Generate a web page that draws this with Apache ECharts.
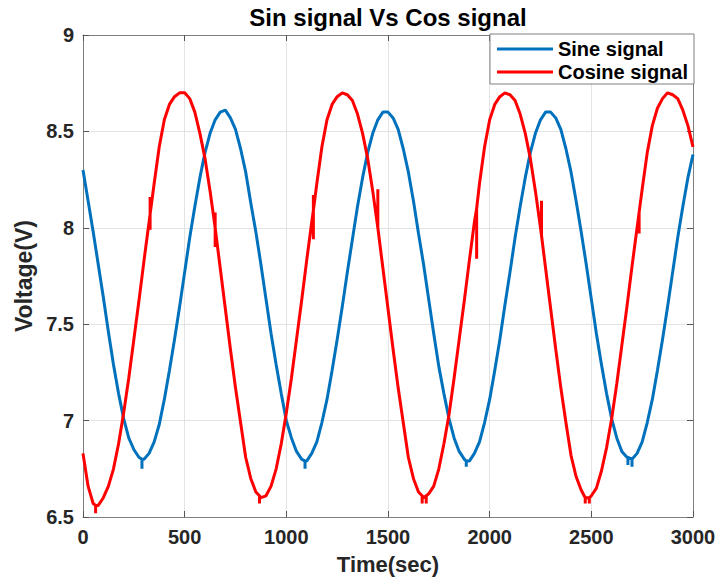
<!DOCTYPE html>
<html>
<head>
<meta charset="utf-8">
<title>Sin signal Vs Cos signal</title>
<script src="https://cdn.jsdelivr.net/npm/echarts@6/dist/echarts.min.js"></script>
<style>
  html, body { margin: 0; padding: 0; background: #fff; }
  #chart { width: 719px; height: 582px; }
</style>
</head>
<body>
<div id="chart"></div>
<script>
// Sampling of the logged signals: one reading every 25 s from t = 0 to 3000 s
const sampleStart = 0;
const sampleStep = 25;

// Sine signal readings (V)
const sineVolts = [
  8.30, 8.14, 7.98, 7.81, 7.64, 7.46, 7.29, 7.14, 7.01, 6.91, 6.85, 6.81, 6.80, 6.83, 6.89, 6.98,
  7.11, 7.26, 7.42, 7.59, 7.77, 7.95, 8.11, 8.26, 8.39, 8.49, 8.56, 8.60, 8.61, 8.57, 8.51, 8.41,
  8.29, 8.13, 7.98, 7.81, 7.63, 7.45, 7.29, 7.14, 7.00, 6.91, 6.84, 6.80, 6.79, 6.83, 6.89, 6.99,
  7.11, 7.26, 7.42, 7.59, 7.77, 7.94, 8.11, 8.26, 8.39, 8.49, 8.56, 8.60, 8.60, 8.57, 8.51, 8.41,
  8.29, 8.14, 7.97, 7.81, 7.63, 7.45, 7.28, 7.14, 7.01, 6.91, 6.84, 6.80, 6.79, 6.83, 6.89, 6.99,
  7.11, 7.26, 7.42, 7.60, 7.77, 7.95, 8.11, 8.26, 8.39, 8.49, 8.56, 8.60, 8.60, 8.57, 8.51, 8.41,
  8.29, 8.14, 7.98, 7.81, 7.63, 7.45, 7.29, 7.14, 7.01, 6.91, 6.84, 6.81, 6.80, 6.83, 6.89, 6.99,
  7.11, 7.26, 7.42, 7.59, 7.77, 7.95, 8.11, 8.26, 8.38
];

// Cosine signal readings (V)
const cosineVolts = [
  6.83, 6.66, 6.57, 6.56, 6.60, 6.66, 6.75, 6.88, 7.04, 7.22, 7.42, 7.62, 7.83, 8.03, 8.23, 8.42,
  8.56, 8.64, 8.68, 8.70, 8.70, 8.67, 8.60, 8.49, 8.36, 8.19, 8.00, 7.79, 7.58, 7.37, 7.17, 6.99,
  6.81, 6.70, 6.63, 6.60, 6.61, 6.66, 6.75, 6.88, 7.04, 7.22, 7.42, 7.62, 7.83, 8.03, 8.23, 8.42,
  8.56, 8.64, 8.68, 8.70, 8.69, 8.66, 8.59, 8.49, 8.36, 8.19, 8.00, 7.79, 7.58, 7.37, 7.17, 6.99,
  6.81, 6.70, 6.63, 6.60, 6.62, 6.66, 6.75, 6.88, 7.03, 7.22, 7.42, 7.62, 7.83, 8.03, 8.23, 8.42,
  8.56, 8.64, 8.68, 8.70, 8.69, 8.66, 8.59, 8.49, 8.36, 8.19, 8.00, 7.79, 7.58, 7.37, 7.17, 6.99,
  6.82, 6.71, 6.64, 6.60, 6.61, 6.65, 6.74, 6.86, 7.01, 7.19, 7.39, 7.59, 7.80, 8.00, 8.20, 8.39,
  8.53, 8.62, 8.67, 8.70, 8.69, 8.67, 8.61, 8.53, 8.42
];

// Short glitches in the recordings: [time, level on the trace, glitch extremes...]
const sineGlitches = [
  [290, 6.80, 6.75], [1092, 6.79, 6.75], [1885, 6.79, 6.76], [2680, 6.81, 6.77], [2700, 6.80, 6.76]
];
const cosineGlitches = [
  [62, 6.56, 6.52], [330, 8.07, 8.16, 7.99], [650, 8.00, 8.08, 7.90], [868, 6.61, 6.57],
  [1133, 8.09, 8.17, 7.94], [1450, 8.00, 8.20], [1668, 6.61, 6.57], [1688, 6.61, 6.57],
  [1936, 8.10, 7.84], [2255, 7.96, 8.14], [2470, 6.60, 6.57], [2490, 6.60, 6.57], [2735, 8.08, 7.97]
];

// Axis settings
const timeMin = 0, timeMax = 3000, timeStep = 500;
const voltMin = 6.5, voltMax = 9, voltStep = 0.5;

function buildTrace(values, glitches) {
  const pts = values.map((v, i) => [sampleStart + i * sampleStep, v]);
  glitches.forEach(([t, level, ...tips]) => {
    const group = [[t, level], ...tips.map(v => [t, v]), [t, level]];
    let idx = pts.findIndex(p => p[0] > t);
    if (idx < 0) idx = pts.length;
    pts.splice(idx, 0, ...group);
  });
  return pts;
}

const fontFamily = 'Liberation Sans, Arial, Helvetica, sans-serif';
const frameColor = '#7f7f7f';
const gridColor = '#e3e3e3';
const labelColor = '#262626';
const plainNumber = (v) => String(v);

const chart = echarts.init(document.getElementById('chart'), null, { renderer: 'svg' });

const frameAxis = (position) => ({
  type: 'value',
  position: position,
  axisLine: { show: true, onZero: false, lineStyle: { color: frameColor, width: 1 } },
  axisTick: { show: true, inside: true, length: 6, lineStyle: { color: '#555555', width: 1 } },
  axisLabel: { show: false },
  splitLine: { show: false }
});

chart.setOption({
  animation: false,
  backgroundColor: '#ffffff',
  graphic: [{
    type: 'text',
    x: 388,
    y: 5,
    style: {
      text: 'Sin signal Vs Cos signal',
      fill: '#000000',
      fontSize: 24,
      fontWeight: 'bold',
      fontFamily: fontFamily,
      align: 'center',
      verticalAlign: 'top'
    },
    z: 100
  }],
  grid: { left: 83, right: 26, top: 35, bottom: 65, containLabel: false },
  legend: {
    orient: 'vertical',
    right: 25,
    top: 34,
    icon: 'rect',
    itemWidth: 56,
    itemHeight: 3,
    itemGap: 3,
    padding: [5, 6, 2, 7],
    backgroundColor: '#ffffff',
    borderColor: frameColor,
    borderWidth: 1,
    borderRadius: 0,
    textStyle: { fontSize: 20, fontWeight: 'bold', color: '#000000', fontFamily: fontFamily },
    data: ['Sine signal', 'Cosine signal'],
    z: 50
  },
  xAxis: [
    {
      type: 'value',
      min: timeMin, max: timeMax, interval: timeStep,
      position: 'bottom',
      name: 'Time(sec)',
      nameLocation: 'middle',
      nameGap: 36,
      nameTextStyle: { fontSize: 22, fontWeight: 'bold', color: labelColor, fontFamily: fontFamily },
      axisLine: { show: true, onZero: false, lineStyle: { color: frameColor, width: 1 } },
      axisTick: { show: true, inside: true, length: 6, lineStyle: { color: '#555555', width: 1 } },
      axisLabel: { fontSize: 20, fontWeight: 'bold', color: labelColor, fontFamily: fontFamily, margin: 10, formatter: plainNumber },
      splitLine: { show: true, lineStyle: { color: gridColor, width: 1 } }
    },
    Object.assign(frameAxis('top'), { min: timeMin, max: timeMax, interval: timeStep })
  ],
  yAxis: [
    {
      type: 'value',
      min: voltMin, max: voltMax, interval: voltStep,
      position: 'left',
      name: 'Voltage(V)',
      nameLocation: 'middle',
      nameGap: 46,
      nameTextStyle: { fontSize: 23, fontWeight: 'bold', color: labelColor, fontFamily: fontFamily },
      axisLine: { show: true, onZero: false, lineStyle: { color: frameColor, width: 1 } },
      axisTick: { show: true, inside: true, length: 6, lineStyle: { color: '#555555', width: 1 } },
      axisLabel: { fontSize: 20, fontWeight: 'bold', color: labelColor, fontFamily: fontFamily, margin: 9, formatter: plainNumber },
      splitLine: { show: true, lineStyle: { color: gridColor, width: 1 } }
    },
    Object.assign(frameAxis('right'), { min: voltMin, max: voltMax, interval: voltStep })
  ],
  series: [
    {
      name: 'Sine signal',
      type: 'line',
      xAxisIndex: 0, yAxisIndex: 0,
      data: buildTrace(sineVolts, sineGlitches),
      showSymbol: false,
      symbol: 'none',
      smooth: false,
      clip: true,
      color: '#0072BD',
      lineStyle: { color: '#0072BD', width: 3 },
      z: 2
    },
    {
      name: 'Cosine signal',
      type: 'line',
      xAxisIndex: 0, yAxisIndex: 0,
      data: buildTrace(cosineVolts, cosineGlitches),
      showSymbol: false,
      symbol: 'none',
      smooth: false,
      clip: true,
      color: '#FF0000',
      lineStyle: { color: '#FF0000', width: 3 },
      z: 3
    }
  ]
});
</script>
</body>
</html>
